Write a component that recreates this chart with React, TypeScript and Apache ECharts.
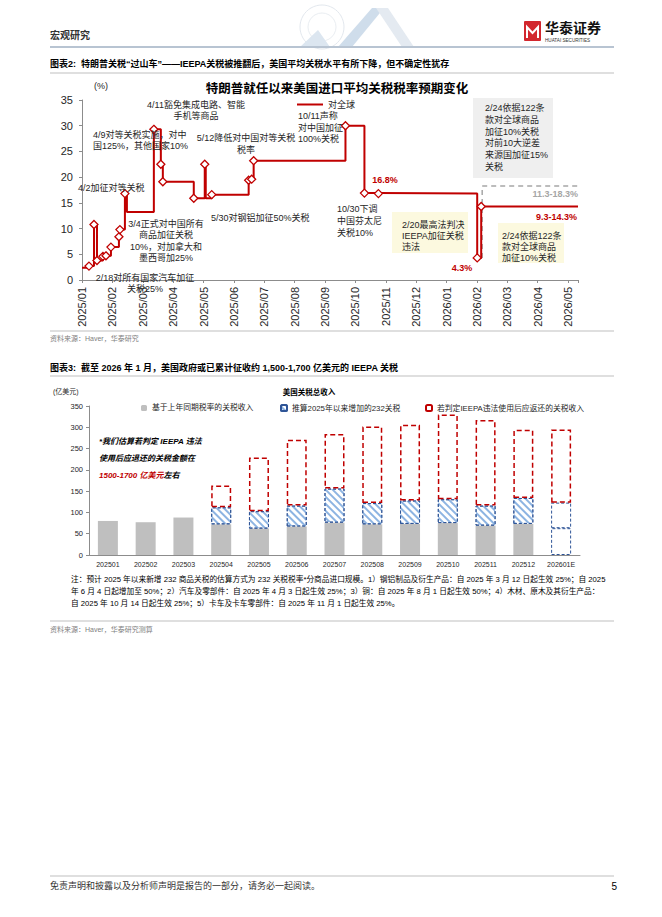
import React, { useEffect, useRef } from "react";
import * as echarts from "echarts";

const FONT = '"Liberation Sans", Arial, "Noto Sans CJK SC", sans-serif';
const RED = "#C00000";
const MONTH_DAYS = 30.4375;
const DAY0 = Date.UTC(2025, 0, 20);

// ---------- Chart 1: average US tariff rate ----------
const monthLabels = [
  "2025/01", "2025/02", "2025/03", "2025/04", "2025/05", "2025/06", "2025/07", "2025/08", "2025/09",
  "2025/10", "2025/11", "2025/12", "2026/01", "2026/02", "2026/03", "2026/04", "2026/05",
];
const rateDates = [
  "2025-01-20", "2025-01-27", "2025-02-01", "2025-02-04", "2025-02-10", "2025-02-13", "2025-02-18",
  "2025-02-26", "2025-02-27", "2025-03-04", "2025-03-06", "2025-04-02", "2025-04-09", "2025-04-11",
  "2025-05-12", "2025-05-23", "2025-05-24", "2025-05-30", "2025-07-06", "2025-07-09", "2025-07-11",
  "2025-10-11", "2025-10-30", "2025-11-13", "2026-02-20", "2026-02-24", "2026-06-01",
];
const rateValues = [
  2.4, 2.7, 10.8, 3.8, 4.6, 4.7, 6.4, 8.4, 9.8, 16.8, 13.2, 29.3, 22.5, 19.1, 15.9, 22.5, 15.9, 16.6,
  19.4, 19.6, 23.2, 30.0, 16.9, 16.8, 4.3, 14.3, 14.3,
];
const rateMarked = [0, 1, 1, 1, 1, 1, 1, 1, 1, 1, 0, 1, 1, 1, 1, 1, 0, 1, 1, 1, 1, 1, 1, 1, 1, 1, 0];
const rangeDates = ["2026-02-25", "2026-02-25", "2026-06-01"];
const rangeValues = [4.3, 18.3, 18.3];

// ---------- Chart 2: US tariff revenue (100m USD) ----------
const revCategories = [
  "202501", "202502", "202503", "202504", "202505", "202506", "202507", "202508", "202509",
  "202510", "202511", "202512", "202601E",
];
const baseRevenue = [80, 77, 88, 72, 62, 67, 76, 72, 73, 75, 69, 73, 63];
const s232Revenue = [null, null, null, 40, 41, 49, 80, 50, 55, 56, 47, 61, 60];
const ieepaRevenue = [null, null, null, 51, 126, 155, 128, 180, 178, 199, 201, 160, 172];
const revTicks = [0, 50, 100, 150, 200, 250, 300, 350];

const dayOf = (s: string) => {
  const [y, m, d] = s.split("-").map(Number);
  return (Date.UTC(y, m - 1, d) - DAY0) / 86400000;
};

type TO = {
  size?: number; fill?: string; align?: string; weight?: string; style?: string; lh?: number; va?: string; rich?: any;
};
const txt = (x: number, y: number, text: string, o: TO = {}) => ({
  type: "text",
  x,
  y,
  silent: true,
  z: 5,
  style: {
    text,
    fill: o.fill ?? "#262626",
    fontSize: o.size ?? 9,
    fontFamily: FONT,
    fontWeight: o.weight ?? "normal",
    fontStyle: o.style ?? "normal",
    textAlign: o.align ?? "left",
    align: o.align ?? "left",
    textVerticalAlign: o.va ?? "middle",
    verticalAlign: o.va ?? "middle",
    lineHeight: o.lh,
    rich: o.rich,
  },
});
const rect = (x: number, y: number, w: number, h: number, fill: string) => ({
  type: "rect",
  silent: true,
  z: 1,
  shape: { x, y, width: w, height: h },
  style: { fill },
});
const hline = (x1: number, x2: number, y: number, stroke: string, lw = 1) => ({
  type: "line",
  silent: true,
  shape: { x1, y1: y, x2, y2: y },
  style: { stroke, lineWidth: lw },
});

export default function App() {
  const ref = useRef<HTMLDivElement>(null);
  useEffect(() => {
    document.body.style.margin = "0";
    const chart = echarts.init(ref.current!, null, { renderer: "svg" });

    const rateData = rateDates.map((d, i) =>
      rateMarked[i] ? [dayOf(d), rateValues[i]] : { value: [dayOf(d), rateValues[i]], symbol: "none" }
    );
    const rangeData = rangeDates.map((d, i) => [dayOf(d), rangeValues[i]]);

    const last = revCategories.length - 1;
    const dashedBlue = { color: "#fff", borderColor: "#2F5597", borderType: [3, 2], borderWidth: 1 };
    const baseData = baseRevenue.map((v, i) => (i === last ? { value: v, itemStyle: dashedBlue } : v));
    const s232Data = s232Revenue.map((v, i) =>
      i === last ? { value: v, itemStyle: { ...dashedBlue, decal: "none" } } : v
    );

    const graphic: any[] = [
      // page header
      txt(50, 35, "宏观研究", { size: 10, weight: "bold", fill: "#333" }),
      { type: "circle", silent: true, shape: { cx: 322, cy: 27, r: 22 }, style: { fill: "none", stroke: "#E3E8EE", lineWidth: 1 } },
      { type: "circle", silent: true, shape: { cx: 322, cy: 27, r: 14 }, style: { fill: "none", stroke: "#EAEEF2", lineWidth: 1 } },
      { type: "polygon", silent: true, shape: { points: [[300, 47], [318, 30], [330, 47]] }, style: { fill: "#DCE6F0" } },
      { type: "polygon", silent: true, shape: { points: [[338, 47], [372, 8], [384, 8], [352, 47]] }, style: { fill: "#CFDDEB" } },
      { type: "polygon", silent: true, shape: { points: [[376, 8], [388, 8], [414, 47], [402, 47]] }, style: { fill: "#E4EAF1" } },
      { type: "rect", silent: true, shape: { x: 524, y: 21, width: 17, height: 20, r: 1 }, style: { fill: "#D2272E" } },
      { type: "polyline", silent: true, shape: { points: [[527, 38], [527, 27], [532.5, 33], [538, 27], [538, 38]] }, style: { stroke: "#fff", lineWidth: 2, fill: "none" } },
      txt(545, 28, "华泰证券", { size: 14, weight: "bold", fill: "#111" }),
      txt(545, 40, "HUATAI SECURITIES", { size: 4.6, fill: "#333" }),
      hline(50, 614, 47, "#B8C4D2", 2),

      // chart 1 header
      txt(50, 64, "图表2:  特朗普关税“过山车”——IEEPA关税被推翻后，美国平均关税水平有所下降，但不确定性犹存", { size: 9, weight: "bold", fill: "#000" }),
      hline(50, 614, 73, "#BFBFBF", 1),
      txt(337, 89, "特朗普就任以来美国进口平均关税税率预期变化", { size: 12.5, weight: "bold", align: "center", fill: "#000" }),
      txt(94, 86, "(%)", { size: 9 }),

      // chart 1 annotations
      txt(196, 99.5, "4/11豁免集成电路、智能\n手机等商品", { align: "center", va: "top", lh: 11 }),
      txt(93, 129, "4/9对等关税实施，对中\n国125%，其他国家10%", { va: "top", lh: 11.5 }),
      txt(246, 132, "5/12降低对中国对等关税\n税率", { align: "center", va: "top", lh: 12 }),
      txt(78, 188, "4/2加征对等关税"),
      txt(166, 218, "3/4正式对中国所有\n商品加征关税\n10%，对加拿大和\n墨西哥加25%", { align: "center", va: "top", lh: 11.5 }),
      txt(145, 272.5, "2/18对所有国家汽车加征\n关税25%", { align: "center", va: "top", lh: 11 }),
      txt(211, 218, "5/30对钢铝加征50%关税"),
      txt(298, 110, "10/11声称\n对中国加征\n100%关税", { va: "top", lh: 11.7 }),
      txt(385, 180, "16.8%", { align: "center", weight: "bold", fill: RED }),
      txt(337, 203, "10/30下调\n中国芬太尼\n关税10%", { va: "top", lh: 11.8 }),
      rect(392, 212, 76, 41, "#FCF9DF"),
      txt(402, 219.5, "2/20最高法判决\nIEEPA加征关税\n违法", { va: "top", lh: 11 }),
      rect(473, 98, 80, 80, "#EFEFEF"),
      txt(485, 102, "2/24依据122条\n款对全球商品\n加征10%关税\n对前10大逆差\n来源国加征15%\n关税", { va: "top", lh: 11.8 }),
      txt(578, 194, "11.3-18.3%", { align: "right", weight: "bold", fill: "#A6A6A6" }),
      txt(577, 217, "9.3-14.3%", { align: "right", weight: "bold", fill: RED }),
      rect(498, 223, 66, 40, "#FCF9DF"),
      txt(502, 230.5, "2/24依据122条\n款对全球商品\n加征10%关税", { va: "top", lh: 11 }),
      txt(462, 268, "4.3%", { align: "center", weight: "bold", fill: RED }),

      hline(50, 614, 331, "#BFBFBF", 1),
      txt(50, 338, "资料来源：Haver，华泰研究", { size: 7, fill: "#808080" }),

      // chart 2 header
      txt(50, 368, "图表3:  截至 2026 年 1 月，美国政府或已累计征收约 1,500-1,700 亿美元的 IEEPA 关税", { size: 9, weight: "bold", fill: "#000" }),
      hline(50, 614, 376, "#BFBFBF", 1),
      txt(53, 391, "(亿美元)", { size: 7 }),
      txt(309, 392, "美国关税总收入", { size: 7.5, weight: "bold", align: "center", fill: "#000" }),
      txt(99, 441.7, "*我们估算若判定 IEEPA 违法", { size: 8, weight: "bold", style: "italic", fill: "#000" }),
      txt(99, 458.3, "使用后应退还的关税金额在", { size: 8, weight: "bold", style: "italic", fill: "#000" }),
      txt(99, 475.7, "{r|1500-1700 亿美元}左右", {
        size: 8, weight: "bold", style: "italic", fill: "#000",
        rich: { r: { fill: RED, fontSize: 8, fontWeight: "bold", fontStyle: "italic", fontFamily: FONT } },
      }),
      txt(71, 579, "注：预计 2025 年以来新增 232 商品关税的估算方式为 232 关税税率*分商品进口规模。1）钢铝制品及衍生产品：自 2025 年 3 月 12 日起生效 25%；自 2025", { size: 7.7, fill: "#000" }),
      txt(71, 591, "年 6 月 4 日起增加至 50%；2）汽车及零部件：自 2025 年 4 月 3 日起生效 25%；3）铜：自 2025 年 8 月 1 日起生效 50%；4）木材、原木及其衍生产品：", { size: 7.7, fill: "#000" }),
      txt(71, 603, "自 2025 年 10 月 14 日起生效 25%；5）卡车及卡车零部件：自 2025 年 11 月 1 日起生效 25%。", { size: 7.7, fill: "#000" }),
      hline(50, 614, 621, "#BFBFBF", 1),
      txt(50, 629, "资料来源：Haver，华泰研究测算", { size: 7, fill: "#808080" }),

      // footer
      hline(50, 614, 876, "#BFBFBF", 1),
      txt(50, 886, "免责声明和披露以及分析师声明是报告的一部分，请务必一起阅读。", { size: 9, fill: "#333" }),
      txt(617, 886, "5", { size: 10, align: "right", fill: "#000" }),
    ];

    const option: any = {
      animation: false,
      backgroundColor: "#fff",
      textStyle: { fontFamily: FONT },
      graphic,
      legend: [
        {
          data: [{ name: "对全球", icon: "rect" }],
          left: 297, top: 100, padding: 0, itemWidth: 26, itemHeight: 2,
          itemStyle: { color: RED, borderWidth: 0 },
          textStyle: { fontSize: 9, color: "#262626", fontFamily: FONT },
        },
        {
          data: ["基于上年同期税率的关税收入"], left: 141, top: 404, padding: 0, itemWidth: 6, itemHeight: 6,
          textStyle: { fontSize: 7.8, color: "#262626", fontFamily: FONT },
        },
        {
          data: ["推算2025年以来增加的232关税"], left: 280, top: 404, padding: 0, itemWidth: 6, itemHeight: 6,
          textStyle: { fontSize: 7.8, color: "#262626", fontFamily: FONT },
        },
        {
          data: ["若判定IEEPA违法使用后应返还的关税收入"], left: 425, top: 404, padding: 0, itemWidth: 6, itemHeight: 6,
          textStyle: { fontSize: 7.8, color: "#262626", fontFamily: FONT },
        },
      ],
      grid: [
        { left: 82, top: 100, width: 496, height: 180 },
        { left: 89, top: 406, width: 491, height: 149 },
      ],
      xAxis: [
        {
          type: "value", gridIndex: 0, min: 0, max: 497, interval: MONTH_DAYS,
          axisLine: { lineStyle: { color: "#8C8C8C" } },
          axisTick: { show: true, length: 3, lineStyle: { color: "#8C8C8C" } },
          splitLine: { show: false },
          axisLabel: {
            rotate: 90, fontSize: 11, color: "#262626", fontFamily: FONT, margin: 7,
            formatter: (v: number) => {
              const k = Math.round(v / MONTH_DAYS);
              return Math.abs(v - k * MONTH_DAYS) < 0.01 ? monthLabels[k] ?? "" : "";
            },
          },
        },
        {
          type: "category", gridIndex: 1, data: revCategories,
          axisLine: { lineStyle: { color: "#8C8C8C" } },
          axisTick: { show: false },
          axisLabel: { fontSize: 7, color: "#262626", fontFamily: FONT, margin: 6, interval: 0 },
        },
      ],
      yAxis: [
        {
          type: "value", gridIndex: 0, min: 0, max: 35, interval: 5,
          axisLine: { show: true, lineStyle: { color: "#8C8C8C" } },
          axisTick: { show: true, length: 3, lineStyle: { color: "#8C8C8C" } },
          splitLine: { show: false },
          axisLabel: { fontSize: 11, color: "#262626", fontFamily: FONT, margin: 9 },
        },
        {
          type: "value", gridIndex: 1, min: revTicks[0], max: revTicks[revTicks.length - 1], interval: revTicks[1] - revTicks[0],
          axisLine: { show: true, lineStyle: { color: "#8C8C8C" } },
          axisTick: { show: true, length: 3, lineStyle: { color: "#8C8C8C" } },
          splitLine: { show: false },
          axisLabel: { fontSize: 7.5, color: "#262626", fontFamily: FONT, margin: 6 },
        },
      ],
      series: [
        {
          name: "range", type: "line", xAxisIndex: 0, yAxisIndex: 0, data: rangeData, symbol: "none",
          lineStyle: { color: "#A6A6A6", width: 1.5, type: [5, 4] }, z: 2,
        },
        {
          name: "对全球", type: "line", xAxisIndex: 0, yAxisIndex: 0, data: rateData, step: "end",
          symbol: "diamond", symbolSize: 8, showSymbol: true,
          lineStyle: { color: RED, width: 2 },
          itemStyle: { color: "#fff", borderColor: RED, borderWidth: 1.3 },
          z: 3,
        },
        {
          name: "基于上年同期税率的关税收入", type: "bar", xAxisIndex: 1, yAxisIndex: 1, stack: "rev",
          barWidth: 20, data: baseData, itemStyle: { color: "#BFBFBF" },
        },
        {
          name: "推算2025年以来增加的232关税", type: "bar", xAxisIndex: 1, yAxisIndex: 1, stack: "rev",
          barWidth: 20, data: s232Data,
          itemStyle: {
            color: "#fff", borderColor: "#2F5597", borderType: [3, 2], borderWidth: 1,
            decal: {
              symbol: "rect", symbolSize: 1, dashArrayX: [1, 0], dashArrayY: [1.6, 3],
              rotation: Math.PI / 4, color: "#8DB4E2", backgroundColor: "#fff",
            },
          },
        },
        {
          name: "若判定IEEPA违法使用后应返还的关税收入", type: "bar", xAxisIndex: 1, yAxisIndex: 1, stack: "rev",
          barWidth: 20, data: ieepaRevenue,
          itemStyle: { color: "#fff", borderColor: RED, borderType: [5, 3], borderWidth: 1.5 },
        },
      ],
    };

    chart.setOption(option);
    return () => chart.dispose();
  }, []);

  return (
    <div
      ref={ref}
      style={{ position: "absolute", left: 0, top: 0, width: 662, height: 917, background: "#fff" }}
    />
  );
}
